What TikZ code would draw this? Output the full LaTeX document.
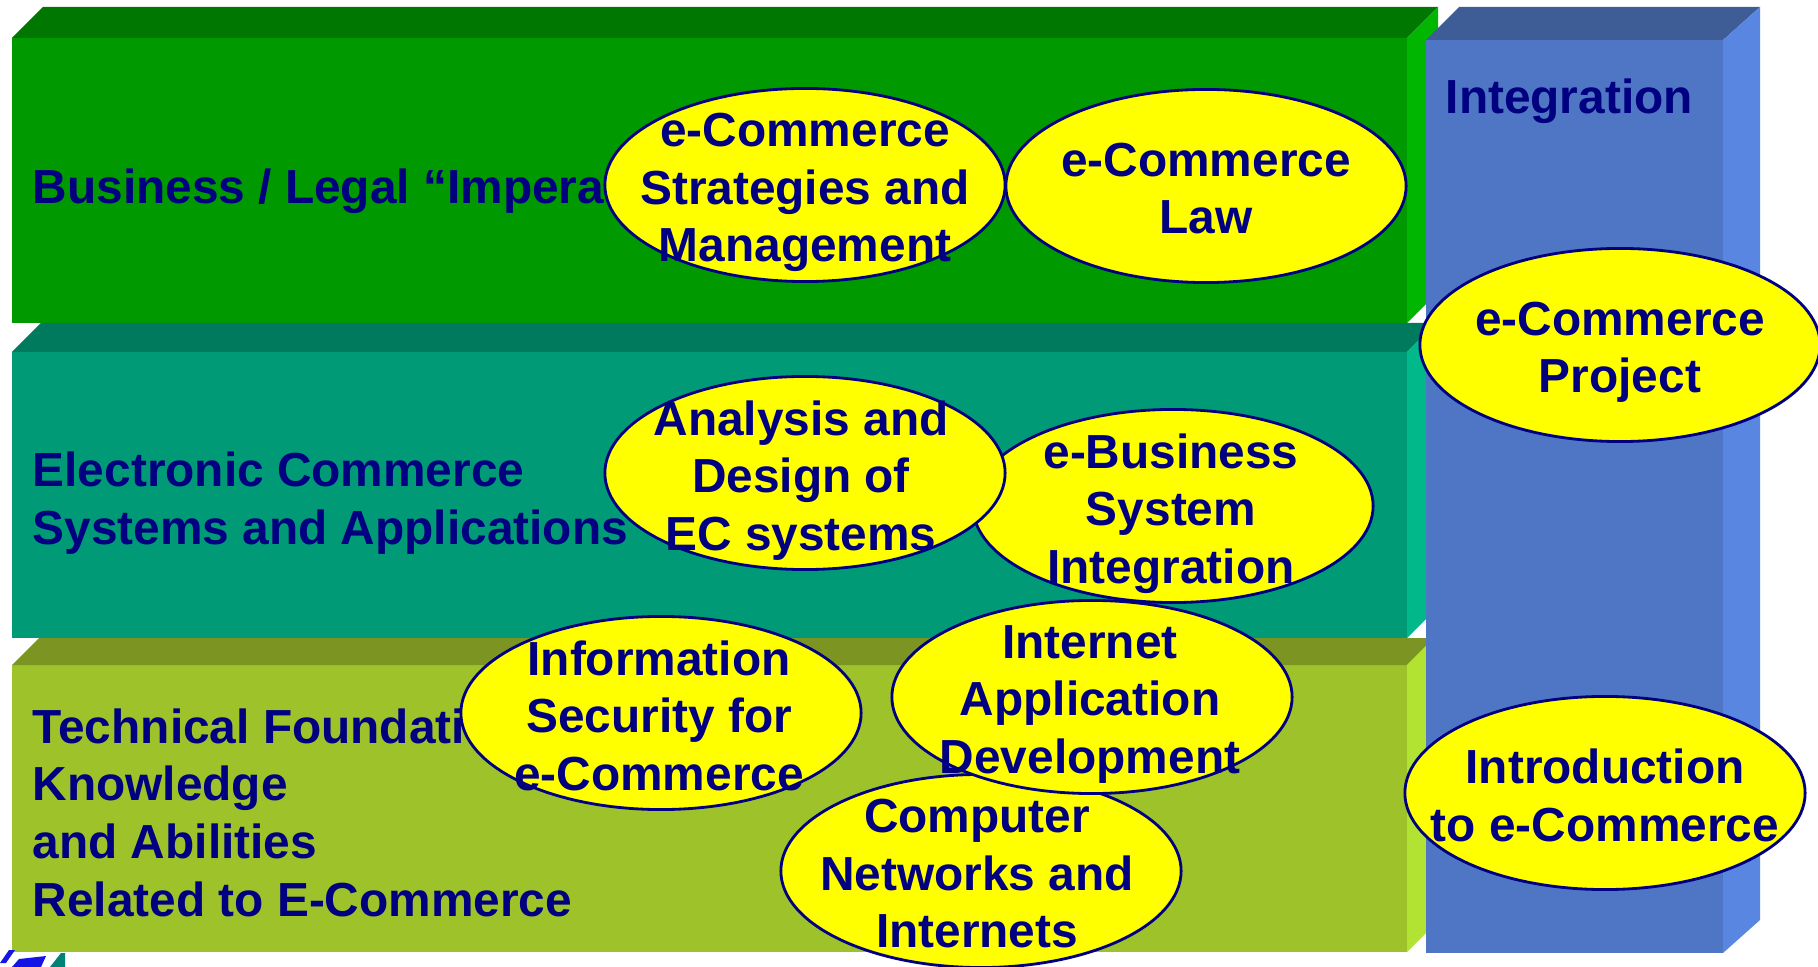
\documentclass[tikz,border=0pt]{standalone}
\usepackage{fontspec}
\setmainfont{Liberation Sans}
\usepackage{xcolor}
\usepackage{tikz}
\usetikzlibrary{shapes.geometric}

\definecolor{navytext}{RGB}{0,0,128}
\definecolor{frontbiz}{RGB}{0,153,0}
\definecolor{topbiz}{RGB}{0,119,0}
\definecolor{sidebiz}{RGB}{0,182,0}
\definecolor{frontsys}{RGB}{0,155,118}
\definecolor{topsys}{RGB}{0,122,92}
\definecolor{sidesys}{RGB}{0,184,138}
\definecolor{fronttech}{RGB}{158,194,42}
\definecolor{toptech}{RGB}{124,149,34}
\definecolor{sidetech}{RGB}{178,226,50}
\definecolor{frontint}{RGB}{78,118,196}
\definecolor{topint}{RGB}{62,92,150}
\definecolor{sideint}{RGB}{88,134,224}
\definecolor{logoblue}{RGB}{20,20,230}
\definecolor{logoteal}{RGB}{0,130,120}
\definecolor{bubfill}{RGB}{255,255,0}

\tikzset{
  bubble/.style={ellipse, draw=navytext, line width=0.8pt, fill=bubfill,
    minimum width=4cm, minimum height=1.93cm, inner sep=0pt},
  bubtext/.style={align=center, text=navytext, inner sep=0pt,
    font=\bfseries\fontsize{13.6}{16.4}\selectfont,
    execute at begin node=\strut, execute at end node=\strut},
  rowlabel/.style={bubtext, align=left, anchor=west}
}

\begin{document}
\begin{tikzpicture}[x=0.01cm,y=-0.01cm]
    \useasboundingbox (0,0) rectangle (1818,967);
    \foreach \t/\b/\d/\c in {38/323/31/biz, 352/638/29/sys, 665/952/27/tech}{
      \fill[front\c] (12,\t) rectangle (1407,\b);
      \fill[top\c] (12,\t) -- ({12+\d},{\t-\d}) -- ({1407+\d},{\t-\d}) -- (1407,\t) -- cycle;
      \fill[side\c] (1407,\t) -- ({1407+\d},{\t-\d}) -- ({1407+\d},{\b-\d}) -- (1407,\b) -- cycle;
    };
    \fill[frontint] (1426,40) rectangle (1723,953);
    \fill[topint] (1426,40) -- (1459,7) -- (1760,7) -- (1723,40) -- cycle;
    \fill[sideint] (1723,40) -- (1760,7) -- (1760,920) -- (1723,953) -- cycle;
    \fill[logoblue] (0,963) -- (9,950) -- (15,950) -- (6,963) -- cycle;
    \fill[logoblue] (12,967) -- (19,959) -- (46,956) -- (41,967) -- cycle;
    \fill[logoteal] (50,967) -- (61,953) -- (65,953) -- (65,967) -- cycle;

    \node[rowlabel] (bizlabel) at (32,192) {Business / Legal “Imperatives”};
    \node[rowlabel] (syslabel) at (32,507) {Electronic Commerce\\Systems and Applications};
    \node[rowlabel] (techlabel) at (32,821) {Technical Foundation\\Knowledge\\and Abilities\\Related to E-Commerce};
    \node[rowlabel] (intlabel) at (1445,102) {Integration};

    \node[bubble] (strat) at (805,185) {};
    \node[bubtext] (strattext) at (805,196) {e-Commerce\\Strategies and\\Management};
    \node[bubble] (law) at (1206,186) {};
    \node[bubtext] (lawtext) at (1206,197) {e-Commerce\\Law};
    \node[bubble] (project) at (1620,345) {};
    \node[bubtext] (projecttext) at (1620,356) {e-Commerce\\Project};
    \node[bubble] (ebiz) at (1173,506) {};
    \node[bubtext] (ebiztext) at (1171,517) {e-Business\\System\\Integration};
    \node[bubble] (analysis) at (805,473) {};
    \node[bubtext] (analysistext) at (801,484) {Analysis and\\Design of\\EC systems};
    \node[bubble] (infosec) at (661,713) {};
    \node[bubtext] (infosectext) at (659,724) {Information\\Security for\\e-Commerce};
    \node[bubble] (compnet) at (981,871) {};
    \node[bubtext] (compnettext) at (977,882) {Computer\\Networks and\\Internets};
    \node[bubble] (inet) at (1092,697) {};
    \node[bubtext] (inettext) at (1090,708) {Internet\\Application\\Development};
    \node[bubble] (intro) at (1605,793) {};
    \node[bubtext] (introtext) at (1605,804) {Introduction\\to e-Commerce};
  \end{tikzpicture}
\end{document}
